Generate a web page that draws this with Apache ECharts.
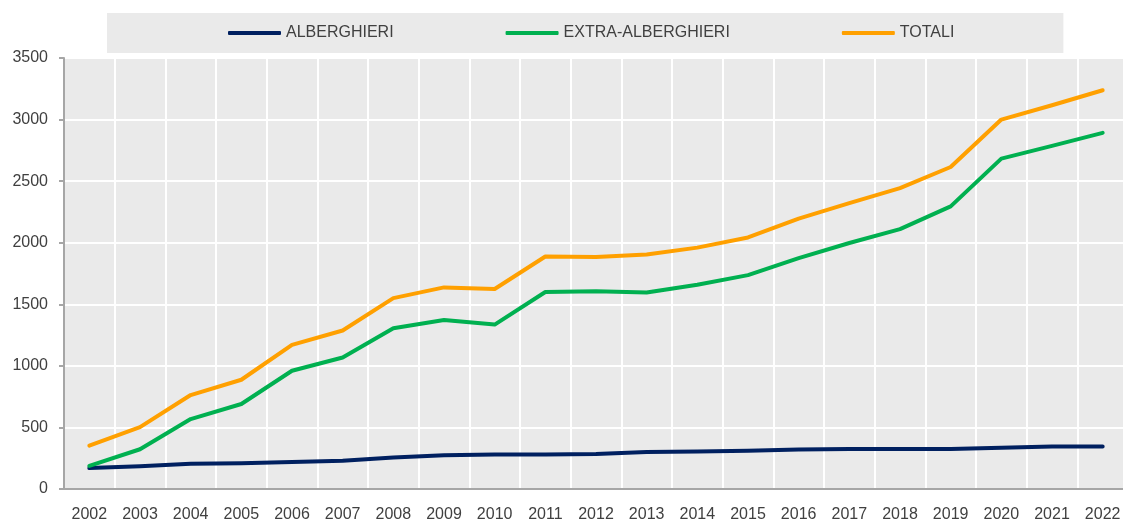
<!DOCTYPE html>
<html>
<head>
<meta http-equiv="Content-Type" content="text/html; charset=utf-8" />
<title>Alberghieri / Extra-alberghieri</title>
<script type="text/javascript" src="https://cdn.jsdelivr.net/npm/echarts@6/dist/echarts.min.js"></script>
<style>
	html, body { margin: 0; padding: 0; background: #fff; }
	#chart { width: 1123px; height: 521px; }
</style>
</head>
<body>
<div id="chart"></div>
<script type="text/javascript">
	// anni
	var years = ['2002','2003','2004','2005','2006','2007','2008','2009','2010','2011','2012',
		'2013','2014','2015','2016','2017','2018','2019','2020','2021','2022'];
	// esercizi alberghieri
	var alberghieri = [170,185,205,210,220,230,255,275,280,280,285,300,305,310,320,325,325,325,335,345,345];
	// esercizi extra-alberghieri
	var extraAlberghieri = [188,323,568,690,960,1068,1305,1372,1335,1600,1605,1595,1658,1737,1875,1998,2110,2295,2683,2786,2892];
	// totale
	var totali = [352,502,763,887,1170,1287,1550,1637,1624,1888,1884,1905,1960,2043,2196,2322,2443,2615,3000,3116,3238];
	var yTicks = [0, 3500, 500]; // min, max, passo

	var font = "'Liberation Sans', Arial, sans-serif";
	var textColor = '#404040';

	function lineSeries(name, data, color){
		return {
			name: name,
			type: 'line',
			data: data,
			symbol: 'none',
			smooth: false,
			lineStyle: { width: 4, color: color, cap: 'round', join: 'round' },
			itemStyle: { color: color }
		};
	}

	var chart = echarts.init(document.getElementById('chart'));
	var option = {
		animation: false,
		textStyle: { fontFamily: font },
		legend: {
			left: 107,
			top: 13,
			padding: [12, 109, 12, 121],
			backgroundColor: '#eaeaea',
			itemGap: 112,
			itemWidth: 53,
			itemHeight: 4,
			icon: 'roundRect',
			textStyle: { fontFamily: font, fontSize: 16, color: textColor },
			data: ['ALBERGHIERI', 'EXTRA-ALBERGHIERI', 'TOTALI']
		},
		grid: {
			left: 64,
			top: 58,
			width: 1064,
			bottom: 32,
			outerBoundsMode: 'none',
			show: true,
			backgroundColor: '#eaeaea',
			borderWidth: 0
		},
		xAxis: {
			type: 'category',
			data: years,
			boundaryGap: true,
			axisLine: { show: true, lineStyle: { color: '#a6a6a6', width: 2 } },
			axisTick: { show: false },
			axisLabel: { fontFamily: font, fontSize: 16, color: textColor, margin: 18, interval: 0 },
			splitLine: { show: true, interval: 0, lineStyle: { color: '#ffffff', width: 2 } }
		},
		yAxis: {
			type: 'value',
			min: yTicks[0],
			max: yTicks[1],
			interval: yTicks[2],
			axisLine: { show: true, lineStyle: { color: '#a6a6a6', width: 2 } },
			axisTick: { show: true, length: 5, lineStyle: { color: '#a6a6a6', width: 2 } },
			axisLabel: {
				fontFamily: font, fontSize: 16, color: textColor, margin: 16,
				formatter: function(v){ return String(v); }
			},
			splitLine: { show: true, lineStyle: { color: '#ffffff', width: 2 } }
		},
		series: [
			lineSeries('ALBERGHIERI', alberghieri, '#002060'),
			lineSeries('EXTRA-ALBERGHIERI', extraAlberghieri, '#00b050'),
			lineSeries('TOTALI', totali, '#ffa000')
		]
	};
	chart.setOption(option);
</script>
</body>
</html>
